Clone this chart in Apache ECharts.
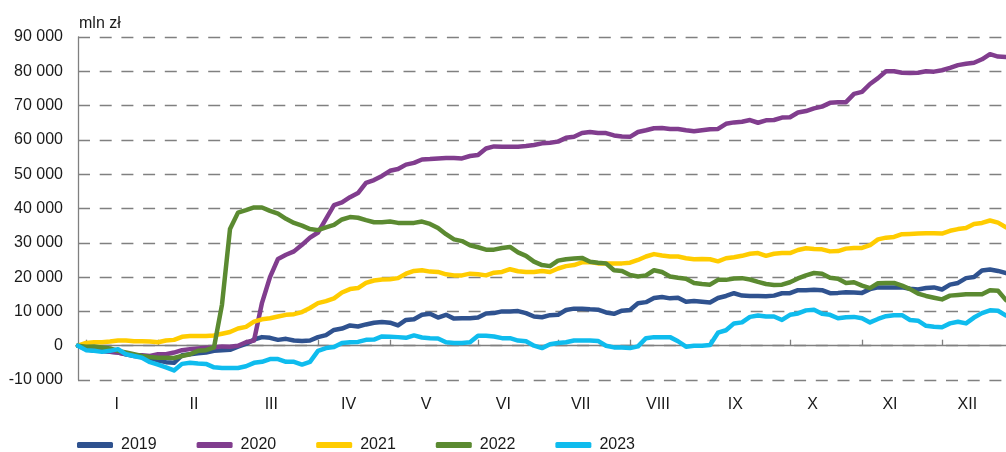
<!DOCTYPE html>
<html>
<head>
<meta charset="utf-8">
<script src="https://cdn.jsdelivr.net/npm/echarts@6/dist/echarts.min.js"></script>
<style>
html,body{margin:0;padding:0;background:#fff;}
#chart{width:1006px;height:452px;}
</style>
</head>
<body>
<div id="chart"></div>
<script>
// Month labels (bottom axis)
const months = ['I','II','III','IV','V','VI','VII','VIII','IX','X','XI','XII'];
// Year names
const years = ['2019','2020','2021','2022','2023'];
// Cumulative values, mln zł, sampled along the year (117 points)
const y2019 = [0,-1000,-1500,-1500,-1800,-2000,-2500,-3000,-3300,-3600,
  -4300,-4800,-5000,-2800,-2500,-2200,-2000,-1500,-1300,-1200,
  -300,500,1800,2500,2300,1700,2000,1500,1400,1500,
  2500,3100,4600,5000,5900,5600,6200,6700,6900,6700,
  5900,7500,7700,9000,9300,8200,9000,7900,8000,8000,
  8200,9400,9500,10000,10000,10100,9500,8500,8300,8900,
  9000,10400,10800,10800,10600,10500,9700,9300,10200,10400,
  12400,12700,13900,14200,13800,14000,12800,13000,12800,12600,
  13900,14500,15300,14600,14500,14500,14400,14600,15300,15300,
  16200,16200,16300,16200,15300,15400,15600,15500,15400,16500,
  17000,17000,17000,17000,16600,16400,16800,17000,16400,17800,
  18300,19700,20000,21900,22200,21800,21200];
const y2020 = [0,-800,-1300,-1500,-1800,-2000,-2500,-2800,-2800,-3000,
  -2500,-2500,-2000,-1300,-1000,-800,-600,-500,-200,-300,
  0,1000,1500,12500,20000,25300,26500,27500,29400,31500,
  33000,37000,41000,41800,43300,44500,47500,48300,49500,51000,
  51500,52800,53300,54300,54400,54600,54700,54700,54600,55300,
  55600,57500,58100,58000,58000,58000,58200,58500,59000,59200,
  59500,60600,60900,62000,62300,62000,62000,61300,61000,60900,
  62300,62800,63400,63500,63200,63200,62800,62500,62800,63100,
  63200,64700,65100,65300,65800,65000,65700,65800,66500,66600,
  68000,68400,69200,69700,70800,71000,71000,73400,74000,76300,
  78000,80000,80000,79600,79500,79600,80000,79900,80300,81000,
  81800,82200,82500,83500,85000,84300,84200];
const y2021 = [0,800,1000,1000,1200,1500,1500,1300,1300,1200,
  1000,1500,1700,2600,2800,2800,2800,3000,3500,4000,
  5000,5500,7000,7700,8000,8500,9000,9200,9800,11000,
  12400,13000,13800,15500,16500,16800,18300,19000,19300,19400,
  19700,21000,21800,22000,21600,21500,20800,20500,20500,21000,
  20800,20500,21300,21500,22300,21700,21500,21500,21800,21500,
  22500,23200,23500,24300,24400,24000,24000,24000,24000,24200,
  25000,26000,26700,26300,26000,26000,25500,25200,25300,25200,
  24600,25500,25800,26200,26800,27000,26200,26800,27000,27000,
  27900,28400,28200,28100,27500,27600,28300,28500,28500,29300,
  31000,31500,31700,32500,32600,32700,32800,32800,32700,33500,
  34000,34300,35500,35800,36500,35900,34500];
const y2022 = [0,-300,-200,-500,-800,-1500,-2000,-2500,-3000,-3300,
  -3500,-3500,-3600,-3000,-2500,-1500,-1300,-500,12000,34000,
  38800,39500,40300,40300,39300,38500,37000,35800,35000,34000,
  33700,34500,35200,36800,37500,37300,36600,36000,36000,36200,
  35800,35800,35800,36200,35500,34300,32500,31000,30500,29300,
  28700,28000,28000,28500,28800,27200,26200,24500,23500,23200,
  24800,25200,25400,25600,24500,24200,24000,22000,21800,20600,
  20200,20500,22000,21500,20200,19800,19500,18300,18000,17800,
  19200,19200,19600,19700,19300,18600,18000,17700,17800,18500,
  19600,20500,21200,21000,19800,19500,18300,18500,17500,16800,
  18200,18300,18300,17500,16500,15200,14500,14000,13500,14600,
  14800,15000,15000,15000,16200,16000,13300];
const y2023 = [0,-1300,-1500,-1800,-1500,-1000,-2500,-3000,-3500,-4800,
  -5500,-6300,-7200,-5300,-5000,-5200,-5300,-6300,-6500,-6500,
  -6500,-6000,-5000,-4700,-3900,-3900,-4700,-4700,-5500,-4700,
  -1500,-700,-400,800,1000,1100,1700,1800,2700,2600,
  2500,2300,3000,2400,2200,2100,1000,800,800,1000,
  2900,2900,2700,2200,2200,1500,1300,0,-700,400,
  800,1000,1500,1500,1500,1400,0,-500,-500,-700,
  -200,2200,2500,2500,2500,1300,-300,0,0,200,
  3800,4500,6500,6800,8400,8800,8500,8500,7500,9000,
  9400,10300,10500,9300,9000,8000,8300,8400,8000,6800,
  7800,8600,8900,8900,7500,7300,5800,5500,5400,6500,
  7000,6500,8200,9500,10300,10200,8800];
// Sample positions along the year
const points = y2019.map((_, i) => String(i + 1));

const seriesValues = [y2019, y2020, y2021, y2022, y2023];
const colors = ['#2f528f', '#813d8e', '#ffcc00', '#5b8a31', '#0fbcee'];
const tickIdx = [1, 10, 21, 30, 39, 50, 60, 69, 79, 89, 98, 108];

const fmt = v => {
  if (v === 0) return '0';
  const s = String(Math.abs(v)).replace(/\B(?=(\d{3})+(?!\d))/g, ' ');
  return (v < 0 ? '-' : '') + s;
};

const chart = echarts.init(document.getElementById('chart'));
const font = 'Liberation Sans, Arial, sans-serif';
chart.setOption({
  animation: false,
  backgroundColor: '#fff',
  grid: { left: 78, right: 0, top: 37, bottom: 72, containLabel: false },
  graphic: [{
    type: 'text', left: 79, top: 16,
    style: { text: 'mln zł', font: '16px ' + font, fill: '#1a1a1a' }
  }],
  legend: {
    data: years, left: 72, top: 432, itemWidth: 36, itemHeight: 6, itemGap: 40,
    icon: 'roundRect',
    textStyle: { fontFamily: font, fontSize: 16, color: '#1a1a1a', padding: [0, 0, 0, 3] }
  },
  xAxis: [{
    type: 'category', data: points, boundaryGap: false, position: 'bottom',
    axisLine: { show: true, onZero: true, lineStyle: { color: '#808080', width: 1.3 } },
    axisTick: { show: true, inside: true, length: 6, interval: (i) => tickIdx.includes(i), lineStyle: { color: '#808080', width: 1.3 } },
    axisLabel: { show: false }, splitLine: { show: false }
  }, {
    type: 'category', data: months, boundaryGap: true, position: 'bottom',
    axisLine: { show: false, onZero: false }, axisTick: { show: false },
    axisLabel: { margin: 17, fontFamily: font, fontSize: 16, color: '#1a1a1a' },
    splitLine: { show: false }
  }],
  yAxis: {
    type: 'value', min: -10000, max: 90000, interval: 10000,
    axisLine: { show: true, lineStyle: { color: '#808080', width: 1.3 } },
    axisTick: { show: false },
    axisLabel: { margin: 15, fontFamily: font, fontSize: 16, color: '#1a1a1a', formatter: fmt },
    splitLine: { show: true, lineStyle: { color: '#808080', width: 1.3, type: [12, 9.7] } }
  },
  series: years.map((name, k) => ({
    name, type: 'line', data: seriesValues[k], xAxisIndex: 0,
    showSymbol: false, symbol: 'none',
    lineStyle: { color: colors[k], width: 4.5, join: 'round', cap: 'round' },
    itemStyle: { color: colors[k] }
  }))
});
</script>
</body>
</html>
